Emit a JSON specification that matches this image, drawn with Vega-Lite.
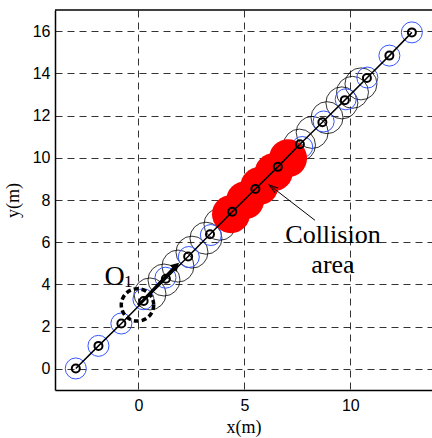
{
  "$schema": "https://vega.github.io/schema/vega-lite/v6.json",
  "width": 377,
  "height": 380,
  "autosize": {"type": "none"},
  "padding": {"left": 55, "top": 10, "right": 0, "bottom": 48},
  "background": "white",
  "config": {
    "view": {"stroke": null},
    "axis": {
      "labelFont": "Liberation Sans",
      "labelFontSize": 16,
      "labelColor": "#000",
      "titleFont": "Liberation Serif",
      "titleFontSize": 18,
      "titleFontWeight": "normal",
      "titleColor": "#000",
      "domainColor": "#000",
      "domainWidth": 1.5,
      "ticks": false,
      "tickSize": 0,
      "gridColor": "#000",
      "gridDash": [7, 5],
      "gridWidth": 1,
      "gridOpacity": 0.8
    }
  },
  "datasets": {
    "path": [
      {"k": 0, "x": -2.95, "y": 0.02},
      {"k": 1, "x": -1.88, "y": 1.09},
      {"k": 2, "x": -0.8, "y": 2.15},
      {"k": 3, "x": 0.25, "y": 3.22},
      {"k": 4, "x": 1.3, "y": 4.27},
      {"k": 5, "x": 2.35, "y": 5.32},
      {"k": 6, "x": 3.38, "y": 6.38},
      {"k": 7, "x": 4.43, "y": 7.44},
      {"k": 8, "x": 5.52, "y": 8.52},
      {"k": 9, "x": 6.58, "y": 9.57},
      {"k": 10, "x": 7.62, "y": 10.64},
      {"k": 11, "x": 8.68, "y": 11.68},
      {"k": 12, "x": 9.74, "y": 12.73},
      {"k": 13, "x": 10.78, "y": 13.78},
      {"k": 14, "x": 11.84, "y": 14.84},
      {"k": 15, "x": 12.9, "y": 15.94}
    ],
    "blue": [
      {"x": -2.95, "y": 0.02},
      {"x": -1.88, "y": 1.09},
      {"x": -0.8, "y": 2.15},
      {"x": 0.24, "y": 3.3},
      {"x": 1.28, "y": 4.32},
      {"x": 2.38, "y": 5.3},
      {"x": 3.42, "y": 6.34},
      {"x": 4.43, "y": 7.44},
      {"x": 5.52, "y": 8.52},
      {"x": 6.58, "y": 9.57},
      {"x": 7.73, "y": 10.51},
      {"x": 8.74, "y": 11.72},
      {"x": 9.78, "y": 12.77},
      {"x": 10.8, "y": 13.8},
      {"x": 11.84, "y": 14.84},
      {"x": 12.9, "y": 15.94}
    ],
    "big": [
      {"x": 0.55, "y": 3.55},
      {"x": 1.21, "y": 4.21},
      {"x": 1.87, "y": 4.87},
      {"x": 2.53, "y": 5.53},
      {"x": 3.19, "y": 6.19},
      {"x": 3.85, "y": 6.85},
      {"x": 7.6, "y": 10.6},
      {"x": 8.2, "y": 11.2},
      {"x": 8.9, "y": 11.9},
      {"x": 9.6, "y": 12.6},
      {"x": 10.1, "y": 13.1},
      {"x": 10.5, "y": 13.5}
    ],
    "red": [
      {"x": 4.37, "y": 7.33},
      {"x": 5.04, "y": 7.99},
      {"x": 5.71, "y": 8.66},
      {"x": 6.39, "y": 9.32},
      {"x": 7.06, "y": 9.98}
    ],
    "arrows": [
      {"name": "o1", "x": 0.0, "y": 3.0, "x2": 1.75, "y2": 4.86},
      {"name": "coll", "x": 8.33, "y": 7.04, "x2": 6.32, "y2": 8.6}
    ],
    "heads": [
      {"name": "o1", "x": 1.78, "y": 4.89, "ang": 45},
      {"name": "coll", "x": 6.35, "y": 8.58, "ang": 307}
    ],
    "labels": [
      {"t": "Collision", "x": 9.18, "y": 5.96, "s": 26},
      {"t": "area", "x": 9.18, "y": 4.54, "s": 26},
      {"t": "O", "x": -1.12, "y": 3.97, "s": 28},
      {"t": "1", "x": -0.48, "y": 3.86, "s": 17}
    ],
    "frame": [{"y": 17}],
    "o1": [{"x": -0.04, "y": 3.03}]
  },
  "layer": [
    {
      "data": {"name": "frame"},
      "mark": {"type": "rule", "color": "#000", "strokeWidth": 1.5},
      "encoding": {
        "y": {"field": "y", "type": "quantitative", "scale": {"domain": [-1, 17], "nice": false, "zero": false}, "axis": {"title": "y(m)", "values": [0, 2, 4, 6, 8, 10, 12, 14, 16], "grid": true, "labelPadding": 5, "titlePadding": 10}}
      }
    },
    {
      "data": {"name": "big"},
      "mark": {"type": "point", "shape": "circle", "filled": false, "color": "#000", "strokeWidth": 0.8, "size": 1024, "opacity": 1},
      "encoding": {
        "x": {"field": "x", "type": "quantitative", "scale": {"domain": [-3.93, 13.85], "nice": false, "zero": false}, "axis": {"title": "x(m)", "values": [0, 5, 10], "grid": true, "labelPadding": 7, "titlePadding": 5}},
        "y": {"field": "y", "type": "quantitative"}
      }
    },
    {
      "data": {"name": "blue"},
      "mark": {"type": "point", "shape": "circle", "filled": false, "color": "#3355ff", "strokeWidth": 1, "size": 441, "opacity": 1},
      "encoding": {
        "x": {"field": "x", "type": "quantitative"},
        "y": {"field": "y", "type": "quantitative"}
      }
    },
    {
      "data": {"name": "red"},
      "mark": {"type": "point", "shape": "circle", "filled": true, "color": "#ff0000", "size": 1444, "opacity": 1},
      "encoding": {
        "x": {"field": "x", "type": "quantitative"},
        "y": {"field": "y", "type": "quantitative"}
      }
    },
    {
      "data": {"name": "path"},
      "mark": {"type": "line", "color": "#000", "strokeWidth": 1.5},
      "encoding": {
        "x": {"field": "x", "type": "quantitative"},
        "y": {"field": "y", "type": "quantitative"},
        "order": {"field": "k"}
      }
    },
    {
      "data": {"name": "path"},
      "mark": {"type": "point", "shape": "circle", "filled": false, "color": "#000", "strokeWidth": 2, "size": 64, "opacity": 1},
      "encoding": {
        "x": {"field": "x", "type": "quantitative"},
        "y": {"field": "y", "type": "quantitative"}
      }
    },
    {
      "data": {"name": "o1"},
      "mark": {"type": "point", "shape": "circle", "filled": false, "color": "#000", "strokeWidth": 3.5, "strokeDash": [5, 3], "size": 1050, "opacity": 1},
      "encoding": {
        "x": {"field": "x", "type": "quantitative"},
        "y": {"field": "y", "type": "quantitative"}
      }
    },
    {
      "data": {"name": "arrows"},
      "mark": {"type": "rule", "color": "#000"},
      "encoding": {
        "x": {"field": "x", "type": "quantitative"},
        "y": {"field": "y", "type": "quantitative"},
        "x2": {"field": "x2"},
        "y2": {"field": "y2"},
        "strokeWidth": {"field": "name", "type": "nominal", "scale": {"domain": ["o1", "coll"], "range": [3, 1]}, "legend": null}
      }
    },
    {
      "data": {"name": "heads"},
      "transform": [{"filter": "datum.name === 'o1'"}],
      "mark": {"type": "point", "shape": "triangle-up", "filled": true, "color": "#000", "size": 90, "opacity": 1},
      "encoding": {
        "x": {"field": "x", "type": "quantitative"},
        "y": {"field": "y", "type": "quantitative"},
        "angle": {"field": "ang", "type": "quantitative", "scale": null}
      }
    },
    {
      "data": {"name": "heads"},
      "transform": [{"filter": "datum.name === 'coll'"}],
      "mark": {"type": "point", "shape": "M -0.6 1 L 0 -1 L 0.6 1", "filled": false, "color": "#000", "strokeWidth": 1, "size": 80, "opacity": 1},
      "encoding": {
        "x": {"field": "x", "type": "quantitative"},
        "y": {"field": "y", "type": "quantitative"},
        "angle": {"field": "ang", "type": "quantitative", "scale": null}
      }
    },
    {
      "data": {"name": "labels"},
      "mark": {"type": "text", "font": "Liberation Serif", "align": "center", "baseline": "alphabetic", "color": "#000"},
      "encoding": {
        "x": {"field": "x", "type": "quantitative"},
        "y": {"field": "y", "type": "quantitative"},
        "text": {"field": "t"},
        "size": {"field": "s", "type": "quantitative", "scale": null}
      }
    }
  ]
}
